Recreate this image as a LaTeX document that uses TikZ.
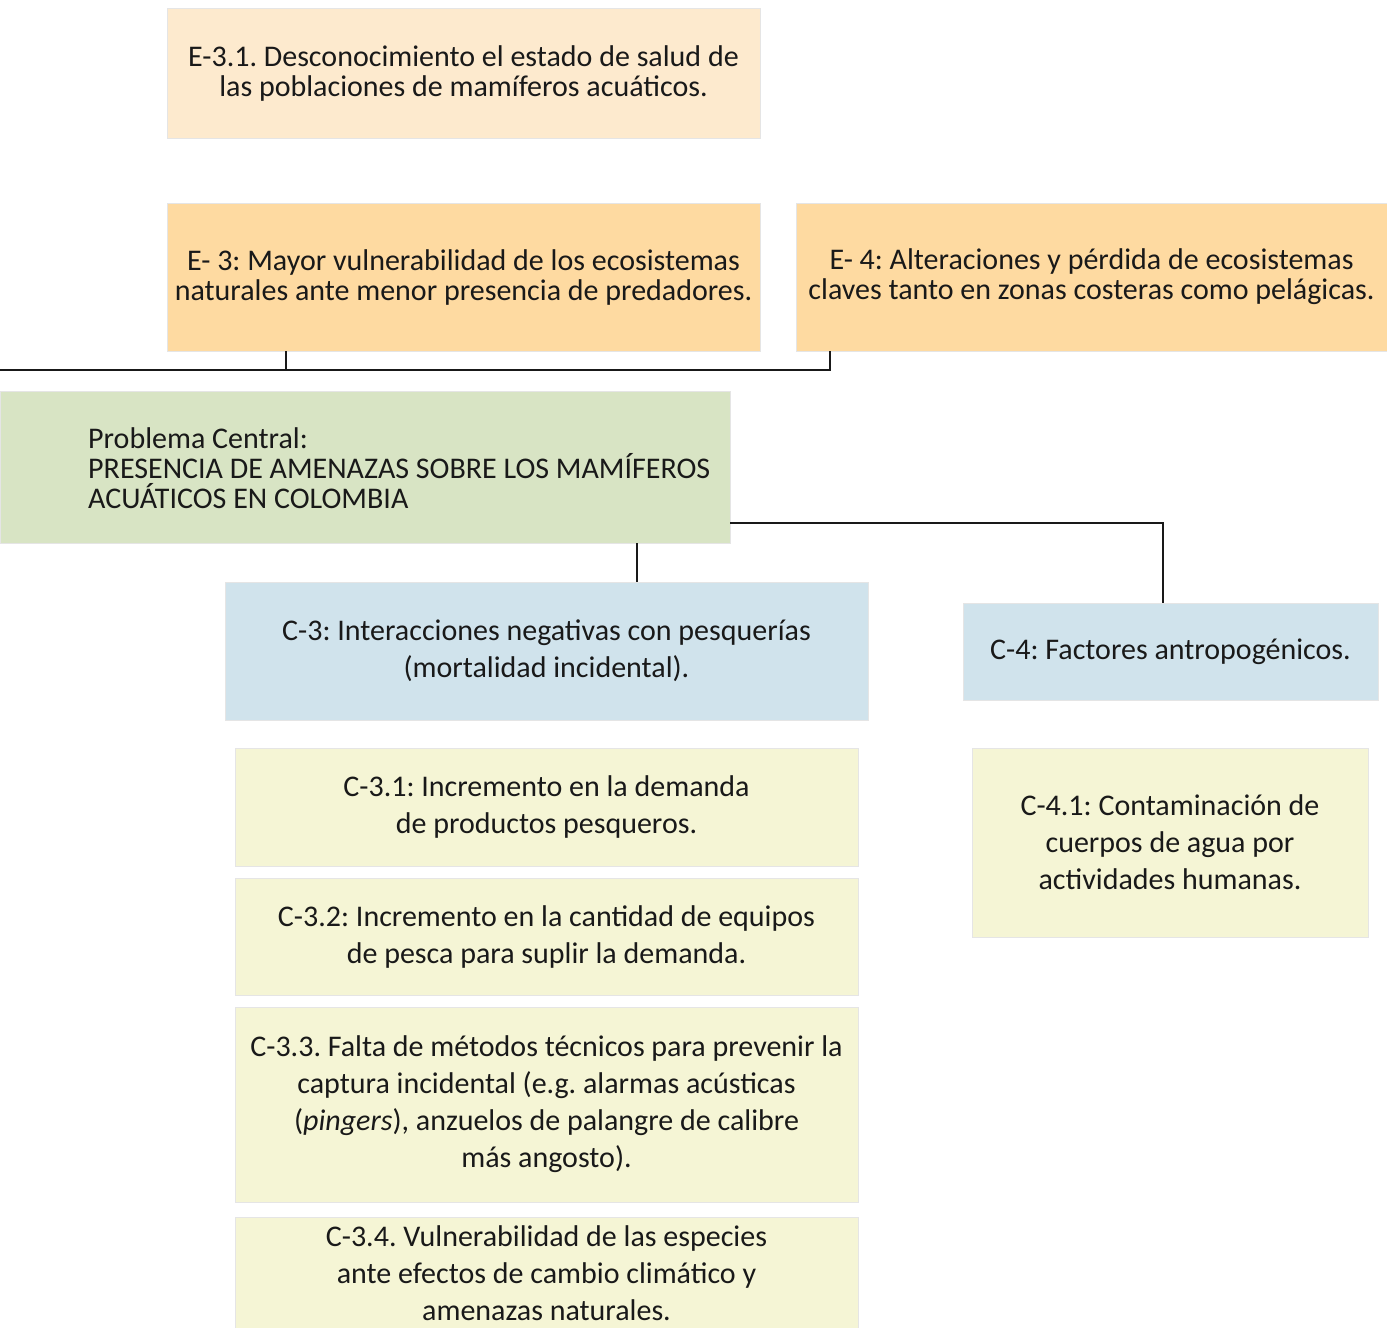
\documentclass[tikz,border=0pt]{standalone}
\usepackage{fontspec}
\setmainfont{Carlito}
\frenchspacing
\definecolor{epale}{RGB}{253,234,206}
\definecolor{eorange}{RGB}{254,218,161}
\definecolor{cgreen}{RGB}{216,228,196}
\definecolor{cblue}{RGB}{208,227,236}
\definecolor{cyellow}{RGB}{245,245,213}
\tikzset{
  box/.style={rectangle, inner sep=0pt, draw=black!10, line width=1pt, align=center, text=black!90},
  etxt/.style={font=\fontsize{30}{30}\selectfont},
  ctxt/.style={font=\fontsize{30}{37}\selectfont},
  conn/.style={draw=black!90, line width=2pt}
}
\begin{document}
\begin{tikzpicture}[x=1pt,y=-1pt]
\useasboundingbox (0,0) rectangle (1387,1328);
% effects
\node[box, etxt, fill=epale, minimum width=593, minimum height=130] (e31) at (463.5,73)
  {E-3.1. Desconocimiento el estado de salud de\\las poblaciones de mamíferos acuáticos.};
\node[box, etxt, fill=eorange, minimum width=593, minimum height=148] (e3) at (463.5,277)
  {E- 3: Mayor vulnerabilidad de los ecosistemas\\naturales ante menor presencia de predadores.};
\node[box, etxt, fill=eorange, minimum width=591, minimum height=148] (e4) at (1091.5,277)
  {E- 4: Alteraciones y pérdida de ecosistemas\\claves tanto en zonas costeras como pelágicas.};
% central problem
\node[box, fill=cgreen, minimum width=730, minimum height=152] (pc) at (365,467) {};
\node[anchor=west, align=left, inner sep=0pt, etxt, text=black!90] (pctext) at (88,468)
  {Problema Central:\\PRESENCIA DE AMENAZAS SOBRE LOS MAMÍFEROS\\ACUÁTICOS EN COLOMBIA};
% causes
\node[box, ctxt, fill=cblue, minimum width=643, minimum height=138] (c3) at (546.5,651)
  {C-3: Interacciones negativas con pesquerías\\(mortalidad incidental).};
\node[box, ctxt, fill=cblue, minimum width=415, minimum height=97] (c4) at (1170.5,651.5)
  {C-4: Factores antropogénicos.};
\node[box, ctxt, fill=cyellow, minimum width=623, minimum height=118] (c31) at (546.5,807)
  {C-3.1: Incremento en la demanda\\de productos pesqueros.};
\node[box, ctxt, fill=cyellow, minimum width=623, minimum height=117] (c32) at (546.5,936.5)
  {C-3.2: Incremento en la cantidad de equipos\\de pesca para suplir la demanda.};
\node[box, ctxt, fill=cyellow, minimum width=623, minimum height=195] (c33) at (546.5,1104.5)
  {C-3.3. Falta de métodos técnicos para prevenir la\\captura incidental (e.g. alarmas acústicas\\(\textit{pingers}), anzuelos de palangre de calibre\\más angosto).};
\node[box, ctxt, fill=cyellow, minimum width=623, minimum height=112] (c34) at (546.5,1273)
  {C-3.4. Vulnerabilidad de las especies\\ante efectos de cambio climático y\\amenazas naturales.};
\node[box, ctxt, fill=cyellow, minimum width=396, minimum height=189] (c41) at (1170,842.5)
  {C-4.1: Contaminación de\\cuerpos de agua por\\actividades humanas.};
% connectors
\coordinate (L) at (0,370);
\coordinate (e3c) at (286,351);
\coordinate (e4c) at (830,351);
\coordinate (pcR) at (730,523);
\coordinate (pcB) at (637,543);
\coordinate (c4t) at (1163,603);
\coordinate (c3t) at (637,582);
\draw[conn] (L) -| (e4c);
\draw[conn] (e3c) -- (e3c |- L);
\draw[conn] (pcR) -| (c4t);
\draw[conn] (pcB) -- (c3t);
\end{tikzpicture}
\end{document}
